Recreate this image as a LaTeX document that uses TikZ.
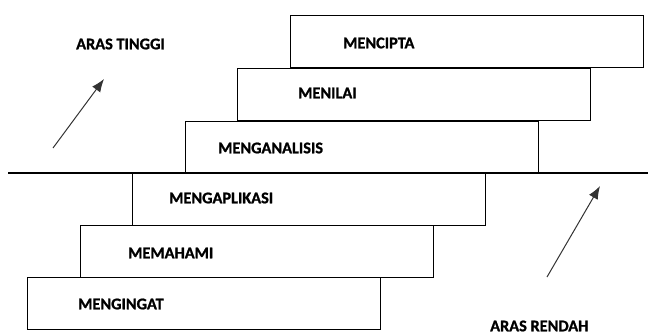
\documentclass[tikz,border=0pt]{standalone}
\usepackage{fontspec}
\setmainfont{Carlito}
\newfontfamily\lblfont{Carlito}[UprightFont={* Bold},FakeBold=1.2]
\usetikzlibrary{arrows.meta}
\begin{document}
\begin{tikzpicture}[x=1pt,y=-1pt,
  stepbox/.style={draw=black,line width=1.1pt,rectangle,minimum width=353pt,minimum height=52pt,inner sep=0pt,anchor=north west},
  lbl/.style={font=\lblfont\fontsize{16.3}{19}\selectfont,anchor=west,inner sep=0pt},
  arr/.style={draw=black!80,line width=1pt,-{Latex[length=13pt,width=10pt]}}]
\useasboundingbox (0,0) rectangle (648,335);
\node[stepbox] (b1) at (27,277) {};
\node[stepbox] (b2) at (79.5,225) {};
\node[stepbox] (b3) at (132,173) {};
\node[stepbox] (b4) at (184.5,120.5) {};
\node[stepbox] (b5) at (237,67.5) {};
\node[stepbox] (b6) at (290,15) {};
\node[lbl] (t1) at (78,304) {MENGINGAT};
\node[lbl] (t2) at (128,253) {MEMAHAMI};
\node[lbl] (t3) at (169,198) {MENGAPLIKASI};
\node[lbl] (t4) at (218,148) {MENGANALISIS};
\node[lbl] (t5) at (298,93) {MENILAI};
\node[lbl] (t6) at (343,43) {MENCIPTA};
\coordinate (h1) at (8,173);
\coordinate (h2) at (648,173);
\draw[line width=1.1pt] (h1) -- (h2);
\node[lbl] (hi) at (76,44) {ARAS TINGGI};
\node[lbl] (lo) at (490,326) {ARAS RENDAH};
\coordinate (a1s) at (53,148);
\coordinate (a1e) at (104,79);
\coordinate (a2s) at (547,277);
\coordinate (a2e) at (600,186);
\draw[arr] (a1s) -- (a1e);
\draw[arr] (a2s) -- (a2e);
\end{tikzpicture}
\end{document}
